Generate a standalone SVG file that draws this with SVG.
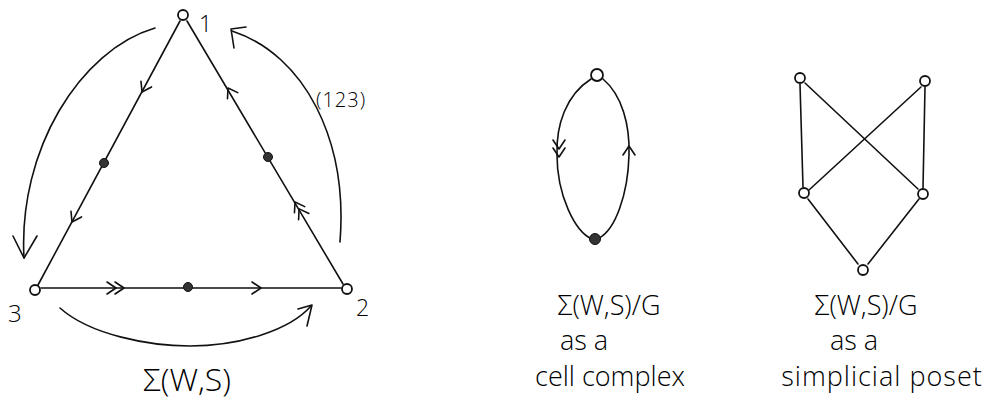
<svg xmlns="http://www.w3.org/2000/svg" width="1001" height="401" viewBox="0 0 1001 401">
<style>
.ln{fill:none;stroke:#111;stroke-width:1.6;stroke-linecap:round;stroke-linejoin:round}
.oc{fill:#fff;stroke:#111;stroke-width:1.8}
.fc{fill:#333;stroke:#111;stroke-width:1}
.t{font-family:"Open Sans","DejaVu Sans",sans-serif;font-weight:300;fill:#000}
</style>
<defs>
<path id="a1" class="ln" d="M-9,-6 L0,0 L-9,6"/>
<g id="a2"><path class="ln" d="M-9,-6 L0,0 L-9,6"/><path class="ln" d="M-17,-6 L-8,0 L-17,6"/></g>
</defs>
<rect width="1001" height="401" fill="#fff"/>
<g id="connectors">
<path class="ln" d="M180,21 L38,285"/>
<path class="ln" d="M187,21 L343,284"/>
<path class="ln" d="M41,288 L341,288"/>
<use href="#a1" transform="translate(142,92) rotate(118.3)"/>
<use href="#a1" transform="translate(72,222) rotate(118.3)"/>
<use href="#a1" transform="translate(228,88) rotate(-120.9)"/>
<use href="#a2" transform="translate(295,202) rotate(-120.9)"/>
<use href="#a2" transform="translate(124,288)"/>
<use href="#a1" transform="translate(261,288)"/>
<path class="ln" d="M155,28 C80,50 18,150 24,258"/>
<path class="ln" d="M13,236 L24,258 L37,236"/>
<path class="ln" d="M340,242 C348,140 305,55 232,31"/>
<path class="ln" d="M246,27 L231,29 L234,48"/>
<path class="ln" d="M60,308 C90,335 150,346 190,346 C240,346 290,330 311,306"/>
<path class="ln" d="M298,309 L312,305 L307,326"/>
<path class="ln" d="M591,79 C566,95 556,125 557,155 C557,195 575,232 592,239"/>
<path class="ln" d="M603,79 C622,95 630,125 629,155 C628,195 615,230 599,238"/>
<use href="#a2" transform="translate(559,157) rotate(90)"/>
<use href="#a1" transform="translate(629,146) rotate(-90)"/>
<path class="ln" d="M800,84 L803,187"/>
<path class="ln" d="M805,83 L918,189"/>
<path class="ln" d="M921,87 L809,190"/>
<path class="ln" d="M925,87 L923,188"/>
<path class="ln" d="M808,199 L858,264"/>
<path class="ln" d="M919,199 L868,264"/>
</g>
<g id="v1"><circle class="oc" cx="183" cy="15" r="5"/><text class="t" x="199" y="32" font-size="23">1</text></g>
<g id="v2"><circle class="oc" cx="347" cy="289" r="5"/><text class="t" x="356" y="316" font-size="23">2</text></g>
<g id="v3"><circle class="oc" cx="35" cy="290" r="5"/><text class="t" x="8" y="322" font-size="24">3</text></g>
<g id="m12"><circle class="fc" cx="268" cy="157" r="4.5"/></g>
<g id="m13"><circle class="fc" cx="104" cy="163" r="4.5"/></g>
<g id="m23"><circle class="fc" cx="188" cy="287" r="4.5"/></g>
<g id="lbl123"><text class="t" x="316" y="107" font-size="20" letter-spacing="1">(123)</text></g>
<g id="lblsigma"><text class="t" x="187" y="391" font-size="32" text-anchor="middle">Σ(W,S)</text></g>
<g id="c_top"><circle class="oc" cx="597" cy="75" r="6"/></g>
<g id="c_bot"><circle class="fc" cx="595" cy="239" r="5.5"/></g>
<g id="cell_lbl"><text class="t" font-size="27" text-anchor="middle"><tspan x="609" y="315">Σ(W,S)/G</tspan><tspan x="584" y="350">as a</tspan><tspan x="610" y="386">cell complex</tspan></text></g>
<g id="p_tl"><circle class="oc" cx="800" cy="78" r="5"/></g>
<g id="p_tr"><circle class="oc" cx="925" cy="81" r="5"/></g>
<g id="p_ml"><circle class="oc" cx="804" cy="193" r="5"/></g>
<g id="p_mr"><circle class="oc" cx="923" cy="194" r="5"/></g>
<g id="p_b"><circle class="oc" cx="863" cy="270" r="5"/></g>
<g id="poset_lbl"><text class="t" font-size="27" text-anchor="middle"><tspan x="866" y="315">Σ(W,S)/G</tspan><tspan x="854" y="350">as a</tspan><tspan x="882" y="386" letter-spacing="1">simplicial poset</tspan></text></g>
</svg>
